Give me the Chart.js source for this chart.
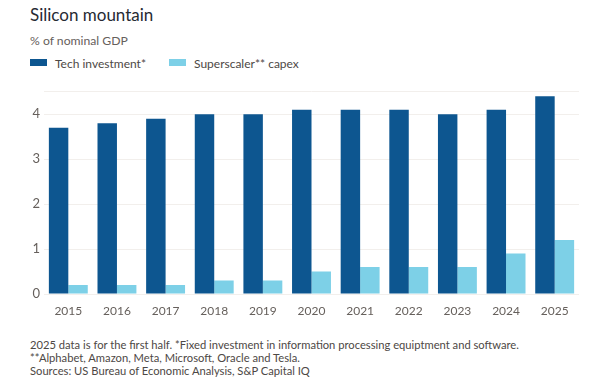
<!DOCTYPE html>
<html>
<head>
<meta charset="utf-8">
<script src="https://cdn.jsdelivr.net/npm/chart.js@4"></script>
<style>
    body { margin: 0; background: #fff; font-family: Lato, "Open Sans", sans-serif; }
    #wrap { position: relative; width: 602px; height: 387px; overflow: hidden; }
    .title { position: absolute; left: 30px; top: 4px; font-size: 17px; color: #262a33; }
    .sub { position: absolute; left: 30px; top: 33px; font-size: 12.2px; color: #66605c; }
    .legend { position: absolute; left: 30px; top: 56px; font-size: 12px; color: #4d4845; }
    .legend span.box { display: inline-block; width: 17px; height: 7px; margin-right: 8px; vertical-align: 2px; }
    .legend .item { display: inline-block; margin-right: 23px; }
    .notes { position: absolute; left: 30px; top: 338px; font-size: 11.2px; line-height: 13px; color: #4d4845; }
    #chartBox { position: absolute; left: 0; top: 80px; width: 602px; height: 240px; }
</style>
</head>
<body>
<div id="wrap">
    <div class="title">Silicon mountain</div>
    <div class="sub">% of nominal GDP</div>
    <div class="legend" id="legend"></div>
    <div id="chartBox"><canvas id="chart"></canvas></div>
    <div class="notes">
        2025 data is for the first half. *Fixed investment in information processing equiptment and software.<br>
        **Alphabet, Amazon, Meta, Microsoft, Oracle and Tesla.<br>
        Sources: US Bureau of Economic Analysis, S&amp;P Capital IQ
    </div>
</div>
<script>
const years = ['2015', '2016', '2017', '2018', '2019', '2020', '2021', '2022', '2023', '2024', '2025'];
const techInvestment = [3.7, 3.8, 3.9, 4.0, 4.0, 4.1, 4.1, 4.1, 4.0, 4.1, 4.4];
const superscalerCapex = [0.2, 0.2, 0.2, 0.3, 0.3, 0.5, 0.6, 0.6, 0.6, 0.9, 1.2];
const seriesNames = ['Tech investment*', 'Superscaler** capex'];
const seriesColors = ['#0d5690', '#7dd0e7'];

// Легенда в HTML
const legend = document.getElementById('legend');
seriesNames.forEach((name, i) => {
    const item = document.createElement('span');
    item.className = 'item';
    item.innerHTML = `<span class="box" style="background:${seriesColors[i]}"></span>${name}`;
    legend.appendChild(item);
});

const ctx = document.getElementById('chart').getContext('2d');
new Chart(ctx, {
    type: 'bar',
    data: {
        labels: years,
        datasets: [{
            label: seriesNames[0],
            data: techInvestment,
            backgroundColor: seriesColors[0],
            barPercentage: 1,
            categoryPercentage: 0.8
        }, {
            label: seriesNames[1],
            data: superscalerCapex,
            backgroundColor: seriesColors[1],
            barPercentage: 1,
            categoryPercentage: 0.8
        }]
    },
    options: {
        responsive: true,
        maintainAspectRatio: false,
        animation: false,
        layout: { padding: { top: 9, right: 23, left: 0, bottom: 0 } },
        plugins: {
            legend: { display: false },
            tooltip: { enabled: false }
        },
        scales: {
            x: {
                grid: { display: false, drawTicks: false },
                border: { display: false },
                ticks: { color: '#66605c', font: { family: 'Lato', size: 12 }, padding: 10 },
                afterFit: scale => { scale.height = 26; }
            },
            y: {
                min: 0,
                max: 4.5,
                grid: { color: '#f2efec', drawTicks: false },
                border: { display: false },
                ticks: {
                    stepSize: 1,
                    color: '#66605c',
                    font: { family: 'Lato', size: 13 },
                    padding: 4,
                    callback: v => Number.isInteger(v) ? v : ''
                },
                afterFit: scale => { scale.width = 44; }
            }
        }
    }
});
</script>
</body>
</html>
